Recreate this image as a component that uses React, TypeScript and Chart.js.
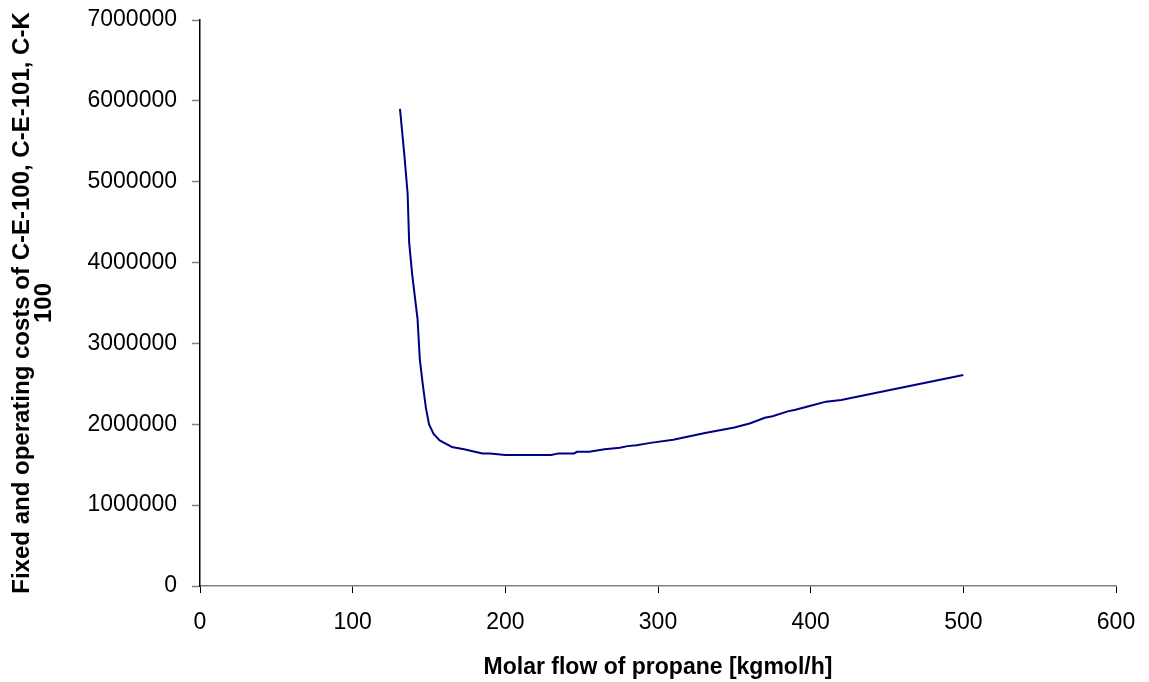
import React, { useEffect, useRef } from "react";
import { Chart, registerables } from "chart.js";

Chart.register(...registerables);

const flowValues: number[] = [
  131, 134, 136, 137, 139, 142.5, 144, 146, 148, 150, 153, 157, 160, 165, 173, 180, 185, 190,
  200, 230, 235, 245, 247, 255, 265, 275, 280, 286, 295, 310, 330, 350, 360, 370, 375, 385,
  390, 400, 410, 420, 500,
];
const costValues: number[] = [
  5900000, 5300000, 4850000, 4250000, 3850000, 3300000, 2800000, 2480000, 2200000, 2000000,
  1880000, 1800000, 1770000, 1720000, 1690000, 1660000, 1640000, 1640000, 1620000, 1620000,
  1640000, 1640000, 1660000, 1660000, 1690000, 1710000, 1730000, 1740000, 1770000, 1810000,
  1890000, 1960000, 2010000, 2080000, 2100000, 2160000, 2180000, 2230000, 2280000, 2300000,
  2610000,
];
const xTitle = "Molar flow of propane [kgmol/h]";
const yTitle = ["Fixed and operating costs of C-E-100, C-E-101, C-K", "100"];
const xRange = [0, 600, 100];
const yRange = [0, 7000000, 1000000];

const FONT = "'Liberation Sans', Arial, sans-serif";

export default function App() {
  const ref = useRef<HTMLCanvasElement | null>(null);
  useEffect(() => {
    if (!ref.current) return;
    const points = flowValues.map((x, i) => ({ x, y: costValues[i] }));
    const chart = new Chart(ref.current, {
      type: "line",
      data: {
        datasets: [
          {
            data: points,
            borderColor: "#000080",
            borderWidth: 2,
            pointRadius: 0,
            tension: 0,
            fill: false,
          },
        ],
      },
      options: {
        animation: false,
        responsive: false,
        layout: { padding: { left: 0, right: 33, top: 20, bottom: 0 } },
        plugins: { legend: { display: false }, tooltip: { enabled: false } },
        scales: {
          x: {
            type: "linear",
            min: xRange[0],
            max: xRange[1],
            afterFit: (s: any) => {
              s.height = 96;
              s.paddingLeft = 0;
              s.paddingRight = 0;
            },
            ticks: {
              stepSize: xRange[2],
              color: "#000",
              font: { family: FONT, size: 23 },
              padding: 16,
              maxRotation: 0,
              callback: (v: any) => String(v),
            },
            grid: { drawOnChartArea: false, tickLength: 7, tickColor: "#000", tickWidth: 1 },
            border: { color: "#808080", width: 1.5 },
            title: {
              display: true,
              text: xTitle,
              color: "#000",
              font: { family: FONT, size: 23, weight: "bold" },
              padding: { top: 0, bottom: 1 },
            },
          },
          y: {
            type: "linear",
            min: yRange[0],
            max: yRange[1],
            afterFit: (s: any) => {
              s.width = 200;
              s.paddingTop = 0;
              s.paddingBottom = 0;
            },
            ticks: {
              stepSize: yRange[2],
              color: "#000",
              font: { family: FONT, size: 23 },
              padding: 15,
              callback: (v: any) => String(v),
            },
            grid: { drawOnChartArea: false, tickLength: 8, tickColor: "#808080", tickWidth: 1.5 },
            border: { color: "#000", width: 1.5 },
            title: {
              display: true,
              text: yTitle,
              color: "#000",
              font: { family: FONT, size: 24, weight: "bold", lineHeight: 0.9 },
              padding: { top: 12, bottom: 0 },
            },
          },
        },
      },
    });
    return () => chart.destroy();
  }, []);
  return (
    <div style={{ position: "fixed", left: 0, top: 0, width: 1149, height: 682, background: "#fff" }}>
      <canvas ref={ref} width={1149} height={682} />
    </div>
  );
}
